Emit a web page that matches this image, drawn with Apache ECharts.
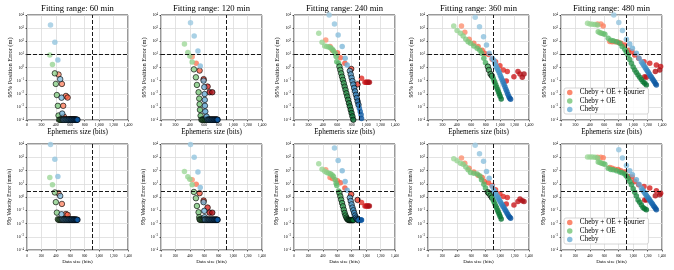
<!DOCTYPE html>
<html><head><meta charset="utf-8">
<script src="https://cdn.jsdelivr.net/npm/echarts@6/dist/echarts.min.js"></script>
<style>html,body{margin:0;padding:0;background:#fff}#c{width:674px;height:270px}</style>
</head><body><div id="c"></div>
<script>
// ---------- data (size in bits, 95% position error in m, 95p velocity error in mm/s) ----------
const titles = ['Fitting range: 60 min','Fitting range: 120 min','Fitting range: 240 min','Fitting range: 360 min','Fitting range: 480 min'];
const seriesNames = ['Cheby + OE + Fourier','Cheby + OE','Cheby'];
const xTicks = [0,200,400,600,800,1000,1200,1400];
const SIZE_REQ = 900, POS_REQ = 10, VEL_REQ = 2.5;

// 60 min
const r60_size = [437, 484, 502, 512, 540, 563, 580, 590, 600, 610, 620, 630, 640, 650, 660, 670, 680, 690];
const r60_pos  = [0.29, 0.056, 0.0012, 1.8e-4, 0.0068, 0.0051, 1.05e-4, 1.05e-4, 1.05e-4, 1.05e-4, 1.05e-4, 1.05e-4, 1.05e-4, 1.05e-4, 1.05e-4, 1.05e-4, 1.05e-4, 1.05e-4];
const r60_vel  = [1.95, 0.3, 0.02, 0.019, 0.052, 0.045, 0.019, 0.019, 0.019, 0.019, 0.019, 0.019, 0.019, 0.019, 0.019, 0.019, 0.019, 0.019];
const g60_size = [316, 353, 386, 400, 414, 428, 437, 447, 457, 467, 477, 487, 497, 507, 517, 527, 537, 547, 557, 567, 577, 587, 597, 607, 617, 627, 637, 647, 657, 667];
const g60_pos  = [9, 1.7, 0.36, 0.056, 0.008, 0.0012, 2.2e-4, 1.05e-4, 1.05e-4, 1.05e-4, 1.05e-4, 1.05e-4, 1.05e-4, 1.05e-4, 1.05e-4, 1.05e-4, 1.05e-4, 1.05e-4, 1.05e-4, 1.05e-4, 1.05e-4, 1.05e-4, 1.05e-4, 1.05e-4, 1.05e-4, 1.05e-4, 1.05e-4, 1.05e-4, 1.05e-4, 1.05e-4];
const g60_vel  = [30, 8.3, 2.2, 0.41, 0.066, 0.021, 0.019, 0.019, 0.019, 0.019, 0.019, 0.019, 0.019, 0.019, 0.019, 0.019, 0.019, 0.019, 0.019, 0.019, 0.019, 0.019, 0.019, 0.019, 0.019, 0.019, 0.019, 0.019, 0.019, 0.019];
const b60_size = [326, 386, 428, 460, 479, 488, 500, 510, 520, 530, 540, 550, 560, 570, 580, 590, 600, 610, 620, 630, 640, 650, 660, 670, 680, 690, 700];
const b60_pos  = [1700, 83, 3.7, 0.13, 0.005, 3.1e-4, 1.05e-4, 1.05e-4, 1.05e-4, 1.05e-4, 1.05e-4, 1.05e-4, 1.05e-4, 1.05e-4, 1.05e-4, 1.05e-4, 1.05e-4, 1.05e-4, 1.05e-4, 1.05e-4, 1.05e-4, 1.05e-4, 1.05e-4, 1.05e-4, 1.05e-4, 1.05e-4, 1.05e-4];
const b60_vel  = [9000, 720, 35, 1.2, 0.05, 0.02, 0.019, 0.019, 0.019, 0.019, 0.019, 0.019, 0.019, 0.019, 0.019, 0.019, 0.019, 0.019, 0.019, 0.019, 0.019, 0.019, 0.019, 0.019, 0.019, 0.019, 0.019];

// 120 min
const r120_size = [432, 488, 535, 591, 646, 674, 711];
const r120_pos  = [6.7, 2.1, 0.58, 0.13, 0.035, 0.013, 0.013];
const r120_vel  = [20, 9, 1.95, 0.54, 0.16, 0.066, 0.066];
const g120_size = [325, 372, 400, 432, 456, 484, 498, 521, 530, 535, 540, 549, 560, 570, 580, 590, 600, 610, 620, 630, 640, 650, 660, 670, 680, 690, 700, 710, 720, 730, 740, 750, 760, 770, 780];
const g120_pos  = [62, 14, 7.6, 2.6, 0.72, 0.18, 0.047, 0.013, 0.0043, 0.0016, 5.9e-4, 2.1e-4, 1.05e-4, 1.05e-4, 1.05e-4, 1.05e-4, 1.05e-4, 1.05e-4, 1.05e-4, 1.05e-4, 1.05e-4, 1.05e-4, 1.05e-4, 1.05e-4, 1.05e-4, 1.05e-4, 1.05e-4, 1.05e-4, 1.05e-4, 1.05e-4, 1.05e-4, 1.05e-4, 1.05e-4, 1.05e-4, 1.05e-4];
const g120_vel  = [85, 34, 22, 8.3, 2.4, 0.81, 0.21, 0.07, 0.03, 0.021, 0.019, 0.019, 0.019, 0.019, 0.019, 0.019, 0.019, 0.019, 0.019, 0.019, 0.019, 0.019, 0.019, 0.019, 0.019, 0.019, 0.019, 0.019, 0.019, 0.019, 0.019, 0.019, 0.019, 0.019, 0.019];
const b120_size = [409, 460, 512, 544, 590, 600, 605, 607, 609, 614, 632, 645, 655, 665, 675, 685, 695, 705, 715, 725, 735, 745, 755, 765, 775, 785];
const b120_pos  = [2600, 250, 18, 1.3, 0.1, 0.032, 0.0095, 0.0034, 0.0012, 4.4e-4, 1.8e-4, 1.05e-4, 1.05e-4, 1.05e-4, 1.05e-4, 1.05e-4, 1.05e-4, 1.05e-4, 1.05e-4, 1.05e-4, 1.05e-4, 1.05e-4, 1.05e-4, 1.05e-4, 1.05e-4, 1.05e-4];
const b120_vel  = [9000, 1000, 76, 5.2, 0.41, 0.09, 0.03, 0.021, 0.019, 0.019, 0.019, 0.019, 0.019, 0.019, 0.019, 0.019, 0.019, 0.019, 0.019, 0.019, 0.019, 0.019, 0.019, 0.019, 0.019, 0.019];

// 240 min
const r240_size = [440, 500, 533, 603, 644, 705, 793, 881, 936, 983, 1000, 1015, 1030, 1045];
const r240_pos  = [126, 39, 21, 13.5, 5.6, 2.1, 0.78, 0.052, 0.15, 0.074, 0.074, 0.074, 0.074, 0.074];
const r240_vel  = [115, 30, 25, 17, 12, 4.7, 1.6, 0.6, 0.38, 0.21, 0.21, 0.21, 0.21, 0.21];
const g240_size = [343, 389, 426, 454, 482, 505, 528, 547, 570, 584, 593, 618, 630, 642, 654, 666, 678, 690, 702, 714, 726, 738, 750, 762, 774, 786, 798, 810, 822];
const g240_pos  = [400, 83, 44, 39, 36, 32, 26, 19, 12, 6.8, 2.8, 2.1, 1.17, 0.66, 0.36, 0.2, 0.115, 0.063, 0.035, 0.02, 0.011, 0.0062, 0.0035, 0.0019, 0.0011, 6e-4, 3.4e-4, 1.9e-4, 1.05e-4];
const g240_vel  = [320, 126, 89, 71, 63, 56, 45, 35, 20, 11, 7.4, 2.8, 2.0, 1.12, 0.63, 0.35, 0.2, 0.11, 0.063, 0.04, 0.028, 0.022, 0.019, 0.018, 0.018, 0.018, 0.018, 0.018, 0.018];
const b240_size = [487, 561, 612, 668, 709, 737, 774, 786, 798, 810, 822, 834, 846, 858, 870, 882, 894, 906, 918, 930, 936];
const b240_pos  = [9800, 2040, 300, 39, 5, 1.55, 0.55, 0.30, 0.166, 0.093, 0.051, 0.028, 0.0155, 0.0085, 0.0048, 0.0026, 0.00145, 8e-4, 4.4e-4, 2.5e-4, 1.3e-4];
const b240_vel  = [30000, 5000, 575, 95, 15, 3.3, 0.89, 0.5, 0.28, 0.16, 0.1, 0.063, 0.04, 0.028, 0.022, 0.019, 0.018, 0.018, 0.018, 0.018, 0.018];

// 360 min
const r360_size = [464, 510, 570, 635, 695, 751, 783, 839, 890, 936, 997, 1043, 1099, 1085, 1191, 1247, 1275, 1307, 1331];
const r360_pos  = [1450, 480, 141, 69, 39, 21, 12, 10, 4.2, 2.75, 1.38, 0.65, 0.49, 0.093, 0.2, 0.49, 0.32, 0.18, 0.32];
const r360_vel  = [870, 360, 150, 76, 43, 30, 15, 12, 7.4, 3.5, 1.74, 1.1, 0.9, 0.3, 0.25, 0.46, 0.72, 0.51, 0.46];
const g360_size = [357, 403, 450, 487, 524, 556, 589, 635, 681, 719, 742, 774, 797, 830, 844, 867, 886, 904, 916, 928, 940, 952, 964, 976, 988, 1000, 1015];
const g360_pos  = [1450, 650, 400, 250, 141, 93, 69, 44, 29, 21, 12, 5, 2.3, 1.17, 0.65, 0.32, 0.23, 0.15, 0.1, 0.068, 0.046, 0.031, 0.021, 0.014, 0.0095, 0.0065, 0.004];
const g360_vel  = [780, 550, 360, 300, 180, 115, 71, 63, 54, 38, 20, 9.3, 4.7, 2.3, 1.9, 1.3, 0.9, 0.6, 0.42, 0.3, 0.2, 0.145, 0.1, 0.07, 0.049, 0.034, 0.022];
const b360_size = [654, 714, 770, 811, 848, 890, 913, 925, 938, 951, 964, 977, 990, 1003, 1016, 1029, 1042, 1055, 1068, 1081, 1094, 1107, 1120, 1133, 1145];
const b360_pos  = [6600, 1290, 224, 52, 12, 5, 3.5, 2.2, 1.5, 1.05, 0.74, 0.54, 0.38, 0.25, 0.166, 0.112, 0.074, 0.049, 0.032, 0.021, 0.014, 0.0093, 0.0063, 0.0046, 0.0038];
const b360_vel  = [8000, 1860, 490, 85, 26, 6.2, 3.2, 2.4, 1.78, 1.32, 1.0, 0.76, 0.58, 0.44, 0.33, 0.25, 0.19, 0.145, 0.11, 0.083, 0.063, 0.048, 0.036, 0.03, 0.025];

// 480 min
const r480_size = [507, 553, 585, 677, 709, 746, 792, 829, 884, 939, 985, 1022, 1077, 1151, 1230, 1322, 1381, 1160, 1183, 1308, 1368];
const r480_pos  = [2040, 2040, 1450, 95, 93, 93, 83, 69, 52, 21, 16, 9, 5, 2.8, 2.1, 1.55, 1.17, 0.2, 0.18, 0.49, 0.65];
const r480_vel  = [1000, 1000, 900, 170, 150, 126, 120, 95, 76, 35, 32, 15, 8.3, 6.2, 4.7, 2.9, 1.95, 0.6, 0.6, 1.26, 1.5];
const g480_size = [368, 401, 433, 470, 507, 516, 540, 562, 585, 608, 654, 690, 723, 769, 815, 847, 884, 905, 930, 953, 976, 1000, 1022, 1045, 1068, 1091, 1114, 1137, 1160, 1183];
const g480_pos  = [2340, 2040, 1950, 1900, 1740, 540, 450, 400, 370, 340, 166, 120, 110, 93, 69, 39, 25, 16, 9, 4, 2.1, 1.1, 0.65, 0.42, 0.27, 0.18, 0.12, 0.083, 0.062, 0.047];
const g480_vel  = [1050, 1050, 1050, 1000, 870, 440, 400, 360, 330, 300, 150, 120, 115, 95, 76, 68, 54, 38, 26, 15, 8.3, 4.2, 2.3, 1.2, 0.6, 0.4, 0.25, 0.16, 0.13, 0.107];
const b480_size = [732, 801, 852, 907, 953, 990, 1045, 1082, 1114, 1128, 1142, 1156, 1170, 1184, 1198, 1212, 1226, 1240, 1254, 1268, 1282, 1296, 1310, 1322];
const b480_pos  = [9800, 2630, 650, 141, 62, 29, 12, 5, 2.8, 2.1, 1.62, 1.23, 0.93, 0.71, 0.54, 0.41, 0.31, 0.23, 0.178, 0.135, 0.102, 0.078, 0.059, 0.047];
const b480_vel  = [20000, 3700, 870, 240, 95, 48, 20, 9.3, 4.7, 3.6, 2.8, 2.2, 1.7, 1.32, 1.02, 0.79, 0.62, 0.48, 0.37, 0.29, 0.22, 0.174, 0.135, 0.107];

const panels = [
  {red:[r60_size,r60_pos,r60_vel],   green:[g60_size,g60_pos,g60_vel],   blue:[b60_size,b60_pos,b60_vel]},
  {red:[r120_size,r120_pos,r120_vel],green:[g120_size,g120_pos,g120_vel],blue:[b120_size,b120_pos,b120_vel]},
  {red:[r240_size,r240_pos,r240_vel],green:[g240_size,g240_pos,g240_vel],blue:[b240_size,b240_pos,b240_vel]},
  {red:[r360_size,r360_pos,r360_vel],green:[g360_size,g360_pos,g360_vel],blue:[b360_size,b360_pos,b360_vel]},
  {red:[r480_size,r480_pos,r480_vel],green:[g480_size,g480_pos,g480_vel],blue:[b480_size,b480_pos,b480_vel]}
];

// ---------- styling ----------
const SERIF = 'Liberation Serif';
const STOPS = {
  red:   ['#fcbba1','#fc9272','#fb6a4a','#ef3b2c','#cb181d','#a50f15','#67000d'],
  green: ['#c7e9c0','#a1d99b','#74c476','#41ab5d','#238b45','#006d2c','#00441b'],
  blue:  ['#c6dbef','#9ecae1','#6baed6','#4292c6','#2171b5','#08519c','#08306b']
};
function hex2rgb(h){return [parseInt(h.slice(1,3),16),parseInt(h.slice(3,5),16),parseInt(h.slice(5,7),16)];}
function cmap(stops, t){
  const p = (t-0.25)/0.125; let k = Math.max(0, Math.min(stops.length-2, Math.floor(p)));
  const f = Math.max(0, Math.min(1, p-k));
  const a = hex2rgb(stops[k]), b = hex2rgb(stops[k+1]);
  return 'rgb('+a.map((v,j)=>Math.round(v+(b[j]-v)*f)).join(',')+')';
}
function col(stops,i,n){ return cmap(stops, 0.38 + 0.48*(n>1? i/(n-1):0)); }
const KINDS = [
  {key:'red', name:seriesNames[0]},
  {key:'green', name:seriesNames[1]},
  {key:'blue', name:seriesNames[2]}
];

const LEFTS = [27, 161, 294, 428, 561], W = 101;
const ROWS = [{top:15, height:105}, {top:144, height:106}];

const grid = [], xAxis = [], yAxis = [], series = [];
function supLabel(v){
  const e = Math.round(Math.log10(v));
  return '{a|10}{b|' + (e<0 ? '\u2212'+(-e) : e) + '}';
}
[0,1].forEach(row => {
  LEFTS.forEach((L, p) => {
    const g = row*5 + p;
    grid.push({left:L, top:ROWS[row].top, width:W, height:ROWS[row].height, show:true, borderColor:'#000', borderWidth:0.8, backgroundColor:'#fff', containLabel:false});
    xAxis.push({
      gridIndex:g, type:'value', min:xTicks[0], max:xTicks[xTicks.length-1], interval:200,
      axisLine:{show:false}, axisTick:{show:true, length:1.5, lineStyle:{color:'#000', width:0.6}},
      axisLabel:{fontSize: row===0?4:3.5, margin: row===0?3:4, color:'#000', fontFamily:SERIF},
      splitLine:{show:true, lineStyle:{color:'#dcdcdc', width:0.8}},
      name: row===0 ? 'Ephemeris size (bits)' : 'Data size (bits)',
      nameLocation:'middle', nameGap: 8.5,
      nameTextStyle:{fontFamily:SERIF, fontSize: row===0 ? 7.2 : 5, color:'#000'}
    });
    yAxis.push({
      gridIndex:g, type:'log', logBase:10, min:1e-4, max:1e4, interval:1,
      axisLine:{show:false}, axisTick:{show:true, length:1.5, lineStyle:{color:'#000', width:0.6}},
      axisLabel:{formatter:supLabel, margin:3, color:'#000', fontFamily:SERIF,
        rich:{a:{fontSize:4, fontFamily:SERIF, color:'#000'}, b:{fontSize:3, fontFamily:SERIF, color:'#000', padding:[0,0,2.5,0]}}},
      splitLine:{show:true, lineStyle:{color:'#dcdcdc', width:0.8}},
      name: row===0 ? '95% Position Error (m)' : '95p Velocity Error (mm/s)',
      nameLocation:'middle', nameGap: row===0 ? 14 : 15.3,
      nameTextStyle:{fontFamily:SERIF, fontSize: row===0 ? 6.4 : 5.3, color:'#000'}
    });
    const P = panels[p];
    KINDS.forEach((k, ki) => {
      const [S, POS, VEL] = P[k.key];
      const Y = row===0 ? POS : VEL;
      const s = {
        type:'scatter', name:k.name, xAxisIndex:g, yAxisIndex:g, symbolSize:5.5,
        itemStyle:{color: cmap(STOPS[k.key], 0.5)},
        emphasis:{disabled:true},
        data: S.map((x,i) => {
          const edged = POS[i] < POS_REQ && VEL[i] < VEL_REQ && x < SIZE_REQ;
          return {value:[x, Y[i]], itemStyle:{color: col(STOPS[k.key], i, S.length), borderColor: edged ? '#000' : 'transparent', borderWidth: edged ? 0.8 : 0}};
        })
      };
      if (ki === 0) {
        s.markLine = {silent:true, symbol:'none', animation:false, label:{show:false},
          lineStyle:{color:'#000', type:[4,2], width:0.9},
          data:[{xAxis:SIZE_REQ}, {yAxis: row===0 ? POS_REQ : VEL_REQ}]};
      }
      series.push(s);
    });
  });
});

const title = titles.map((t,p) => ({
  text:t, left: LEFTS[p] + W/2, top:4.5, textAlign:'center', padding:0,
  textStyle:{fontFamily:SERIF, fontSize:8.6, fontWeight:'normal', color:'#000'}
}));

const legendBase = {
  data: seriesNames, orient:'vertical', icon:'circle', itemWidth:10, itemHeight:5.5, itemGap:1.5,
  backgroundColor:'rgba(255,255,255,0.85)', borderColor:'#cccccc', borderWidth:0.8, borderRadius:2,
  padding:[1,4,1,3], selectedMode:false,
  textStyle:{fontFamily:SERIF, fontSize:7.2, color:'#000'}
};
const legend = [
  Object.assign({}, legendBase, {left:564, top:88}),
  Object.assign({}, legendBase, {left:564, top:218})
];

const chart = echarts.init(document.getElementById('c'), null, {renderer:'canvas'});
chart.setOption({animation:false, backgroundColor:'#fff', title, legend, grid, xAxis, yAxis, series});
</script></body></html>
